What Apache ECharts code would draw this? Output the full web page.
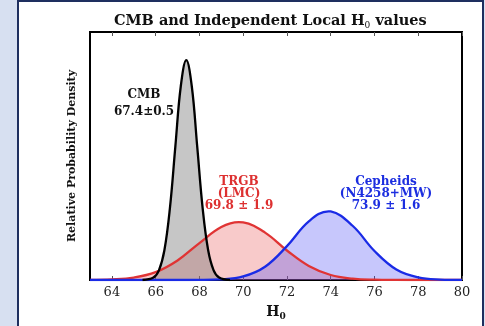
<!DOCTYPE html>
<html>
<head>
<meta charset="utf-8">
<script src="https://cdn.jsdelivr.net/npm/echarts@6/dist/echarts.min.js"></script>
<style>
html, body { margin: 0; padding: 0; background: #d7e0f1; }
#main { width: 485px; height: 326px; }
</style>
</head>
<body>
<div id="main"></div>
<script>
// x ticks
var tickValues = [64, 66, 68, 70, 72, 74, 76, 78, 80];

// CMB 67.4 +- 0.5
var cmbX = [65.4, 65.9, 66.15, 66.4, 66.65, 66.9, 67.15, 67.4, 67.65, 67.9, 68.15, 68.4, 68.65, 68.9, 69.4];
var cmbY = [0.000, 0.009, 0.035, 0.108, 0.259, 0.484, 0.704, 0.798, 0.704, 0.484, 0.259, 0.108, 0.035, 0.009, 0.000];

// TRGB (LMC) 69.8 +- 1.9
var trgbX = [63, 64, 65, 66, 67, 68, 69, 69.8, 70, 71, 72, 73, 74, 75, 76, 77, 78, 79, 80];
var trgbY = [0.0004, 0.002, 0.0086, 0.0284, 0.0709, 0.134, 0.192, 0.210, 0.209, 0.172, 0.107, 0.0509, 0.0182, 0.0050, 0.0010, 0.0002, 0, 0, 0];

// Cepheids (N4258+MW) 73.9 +- 1.6
var cephX = [63, 66, 67, 68, 69, 70, 71, 72, 73, 73.9, 74, 75, 76, 77, 78, 79, 80];
var cephY = [0, 0, 0, 0.0003, 0.0023, 0.0128, 0.0482, 0.123, 0.2128, 0.2493, 0.2488, 0.1968, 0.1054, 0.0382, 0.0093, 0.0016, 0.0002];

var serif = "DejaVu Serif";

var h0Chart = {
	pairs : function(xs, ys) {
		var out = [];
		for (var i = 0; i < xs.length; i++) {
			out.push([xs[i], ys[i]]);
		}
		return out;
	},
	// fill only
	areaSerie : function(xs, ys, fill) {
		return {
			type : "line", data : h0Chart.pairs(xs, ys), smooth : 0.4,
			symbol : "none", lineStyle : { width : 0 }, areaStyle : { color : fill, opacity : 1 },
			z : 2, silent : true
		};
	},
	// line only
	lineSerie : function(xs, ys, color) {
		return {
			type : "line", data : h0Chart.pairs(xs, ys), smooth : 0.4,
			symbol : "none", lineStyle : { color : color, width : 2.3 }, z : 3, silent : true
		};
	},
	init : function() {
		var myChart = echarts.init(document.getElementById("main"));
		var axisCommon = {
			type : "value", min : 63, max : 80,
			axisLine : { show : true, onZero : false, lineStyle : { color : "#000", width : 2 } },
			axisTick : { show : true, inside : true, length : 4, customValues : tickValues, lineStyle : { color : "#555", width : 1 } },
			splitLine : { show : false }
		};
		var option = {
			backgroundColor : "#d7e0f1",
			animation : false,
			title : {
				text : "{t|CMB and Independent Local H}{s|0}{t| values}",
				left : 109, top : 8,
				textStyle : {
					rich : {
						t : { fontFamily : serif, fontWeight : "bold", fontSize : 14.5, color : "#111" },
						s : { fontFamily : serif, fontWeight : "normal", fontSize : 9, color : "#111", padding : [8, 0, 0, 0] }
					}
				}
			},
			graphic : [
				{ type : "rect", z : -10, shape : { x : 18, y : 1, width : 465, height : 340 },
				  style : { fill : "#fff", stroke : "#1e2f5f", lineWidth : 2 } },
				{ type : "text", z : 10, x : 144, y : 86,
				  style : { text : "CMB\n67.4±0.5", align : "center", fill : "#111", font : "bold 12px " + serif, lineHeight : 17 } },
				{ type : "text", z : 10, x : 239, y : 176,
				  style : { text : "TRGB\n(LMC)\n69.8 ± 1.9", align : "center", fill : "#dd3030", font : "bold 12px " + serif, lineHeight : 12 } },
				{ type : "text", z : 10, x : 386, y : 176,
				  style : { text : "Cepheids\n(N4258+MW)\n73.9 ± 1.6", align : "center", fill : "#1c2ee0", font : "bold 12px " + serif, lineHeight : 12 } }
			],
			grid : { left : 90, right : 23, top : 32, bottom : 46, show : true, borderColor : "#000", borderWidth : 2, backgroundColor : "transparent" },
			xAxis : [
				echarts.util.merge({
					position : "bottom",
					name : "{b|H}{s|0}", nameLocation : "middle", nameGap : 24,
					nameTextStyle : {
						rich : {
							b : { fontFamily : serif, fontWeight : "bold", fontSize : 14, color : "#111" },
							s : { fontFamily : serif, fontWeight : "bold", fontSize : 9, color : "#111", padding : [8, 0, 0, 0] }
						}
					},
					axisLabel : { customValues : tickValues, fontFamily : serif, fontSize : 13, color : "#222", margin : 6 }
				}, axisCommon, true),
				echarts.util.merge({
					position : "top",
					axisLabel : { show : false }
				}, axisCommon, true)
			],
			yAxis : {
				type : "value", min : 0, max : 0.9,
				name : "Relative Probability Density", nameLocation : "middle", nameGap : 12, nameRotate : 90,
				nameTextStyle : { fontFamily : serif, fontWeight : "bold", fontSize : 11, color : "#111" },
				axisLine : { show : true, lineStyle : { color : "#000", width : 2 } },
				axisTick : { show : false }, axisLabel : { show : false }, splitLine : { show : false }
			},
			series : [
				h0Chart.areaSerie(trgbX, trgbY, "rgba(232,90,90,0.32)"),
				h0Chart.areaSerie(cephX, cephY, "rgba(70,70,245,0.30)"),
				h0Chart.areaSerie(cmbX, cmbY, "rgba(120,120,120,0.42)"),
				h0Chart.lineSerie(trgbX, trgbY, "#e03434"),
				h0Chart.lineSerie(cephX, cephY, "#1a2be6"),
				h0Chart.lineSerie(cmbX, cmbY, "#000")
			]
		};
		myChart.setOption(option);
	}
};

h0Chart.init();
</script>
</body>
</html>
